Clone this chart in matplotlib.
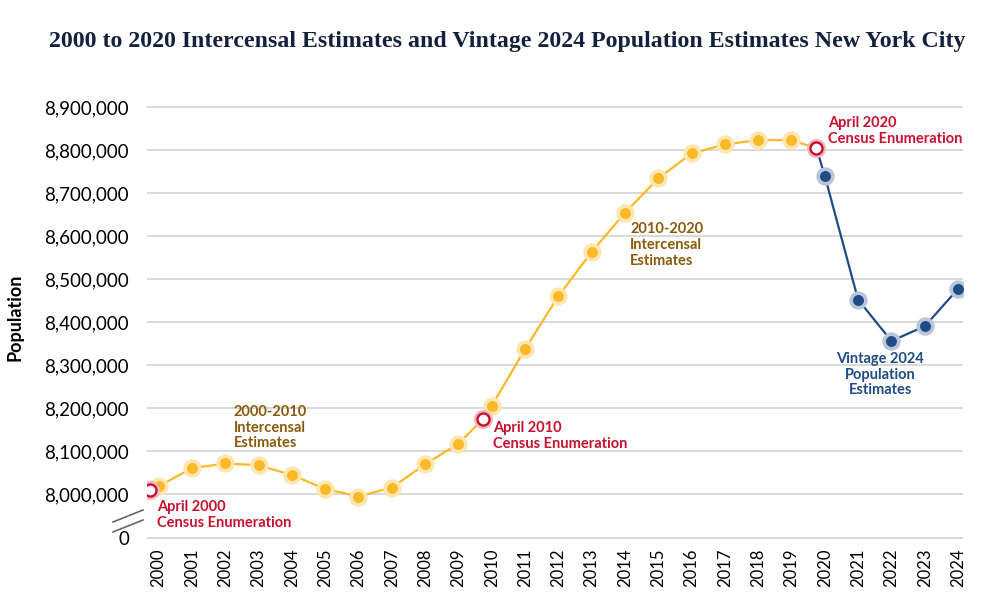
import matplotlib
matplotlib.use("Agg")
import matplotlib.pyplot as plt
from matplotlib.ticker import FuncFormatter

# intercensal estimates, July 1 of each year (2000-2019)
inter_years = list(range(2000, 2020))
inter_pop = [8018000, 8060000, 8071000, 8067000, 8044000, 8012000, 7994000,
             8015000, 8069000, 8117000, 8205000, 8337000, 8460000, 8563000,
             8654000, 8734000, 8792000, 8813000, 8823000, 8823000]

# census counts, April 1
census_years = [1999.75, 2009.75, 2019.75]
census_pop = [8008278, 8175133, 8804190]

# vintage 2024 estimates
vint_years = [2020, 2021, 2022, 2023, 2024]
vint_pop = [8740000, 8452000, 8356000, 8390000, 8477000]

yticks = [8000000, 8100000, 8200000, 8300000, 8400000, 8500000, 8600000,
          8700000, 8800000, 8900000]
zero_pos = 7897000   # where the "0" tick sits below the axis break

YELLOW = "#fbb827"
YELLOW_HALO = "#fde7b0"
BLUE = "#1f4b86"
BLUE_HALO = "#b9c6d9"
RED = "#c8102e"
RED_HALO = "#f0b9c0"
BROWN = "#8a5a0c"
SANS = "Lato"

fig = plt.figure(figsize=(10, 6.1), dpi=100)
ax = fig.add_axes([0.147, 1 - 540 / 610, 0.816, (540 - 95) / 610])

# yellow line runs through the census counts in time order
yl_x = sorted(inter_years + census_years)
yl_y = []
for x in yl_x:
    if x in census_years:
        yl_y.append(census_pop[census_years.index(x)])
    else:
        yl_y.append(inter_pop[inter_years.index(x)])
ax.plot(yl_x, yl_y, color=YELLOW, lw=1.6, zorder=3)
ax.scatter(inter_years, inter_pop, s=175, color=YELLOW_HALO, zorder=4, lw=0)
ax.scatter(inter_years, inter_pop, s=62, color=YELLOW, zorder=5, lw=0)

# blue line starts at the 2020 census
ax.plot([census_years[2]] + vint_years, [census_pop[2]] + vint_pop,
        color=BLUE, lw=1.6, zorder=3)
ax.scatter(vint_years, vint_pop, s=175, color=BLUE_HALO, zorder=4, lw=0)
ax.scatter(vint_years, vint_pop, s=62, color=BLUE, zorder=5, lw=0)

# census markers
ax.scatter(census_years, census_pop, s=190, color=RED_HALO, zorder=6, lw=0)
ax.scatter(census_years, census_pop, s=75, facecolor="white",
           edgecolor=RED, lw=1.7, zorder=7)

ax.set_xlim(2000 - 0.35, 2024.15)
ax.set_ylim(7893000, 8928000)

ax.set_yticks([zero_pos] + yticks)
ax.yaxis.set_major_formatter(FuncFormatter(
    lambda v, p: "0" if v < 7990000 else f"{int(v):,}"))
ax.set_xticks(list(range(2000, 2025)))
ax.set_xticklabels([str(y) for y in range(2000, 2025)], rotation=90)

ax.grid(axis="y", color="#d9d9d9", lw=1.4)
ax.set_axisbelow(True)
for s in ax.spines.values():
    s.set_visible(False)
ax.tick_params(axis="both", length=0)
ax.tick_params(axis="y", labelsize=13.5, pad=13)
ax.tick_params(axis="x", labelsize=12, pad=6)
for lab in ax.get_yticklabels() + ax.get_xticklabels():
    lab.set_family(SANS)
ax.set_ylabel("Population", family=SANS, fontsize=13, weight="bold")
ax.yaxis.set_label_coords(-0.151, 0.5)

# axis break marks
for dy in (0, 10):
    fig.add_artist(plt.Line2D([113 / 1000, 143 / 1000],
                              [1 - (522 + dy) / 610, 1 - (510 + dy) / 610],
                              color="#666666", lw=1.2))

fig.text(0.507, 1 - 42 / 610,
         "2000 to 2020 Intercensal Estimates and Vintage 2024 Population Estimates New York City",
         ha="center", va="center", fontsize=17.2, family="Liberation Serif",
         weight="bold", color="#14213d")

note = dict(fontsize=10.5, family=SANS, weight="bold", va="top",
            linespacing=1.15)
ax.text(2002.25, 8207000, "2000-2010\nIntercensal\nEstimates", color=BROWN, **note)
ax.text(2014.16, 8632000, "2010-2020\nIntercensal\nEstimates", color=BROWN, **note)
ax.text(1999.94, 7986000, "April 2000\nCensus Enumeration", color=RED, **note)
ax.text(2010.05, 8170000, "April 2010\nCensus Enumeration", color=RED, **note)
ax.text(2020.1, 8879000, "April 2020\nCensus Enumeration", color=RED, **note)
ax.text(2021.66, 8330000, "Vintage 2024\nPopulation\nEstimates", color=BLUE,
        ha="center", **note)

fig.savefig("out.png", dpi=100, facecolor="white")
